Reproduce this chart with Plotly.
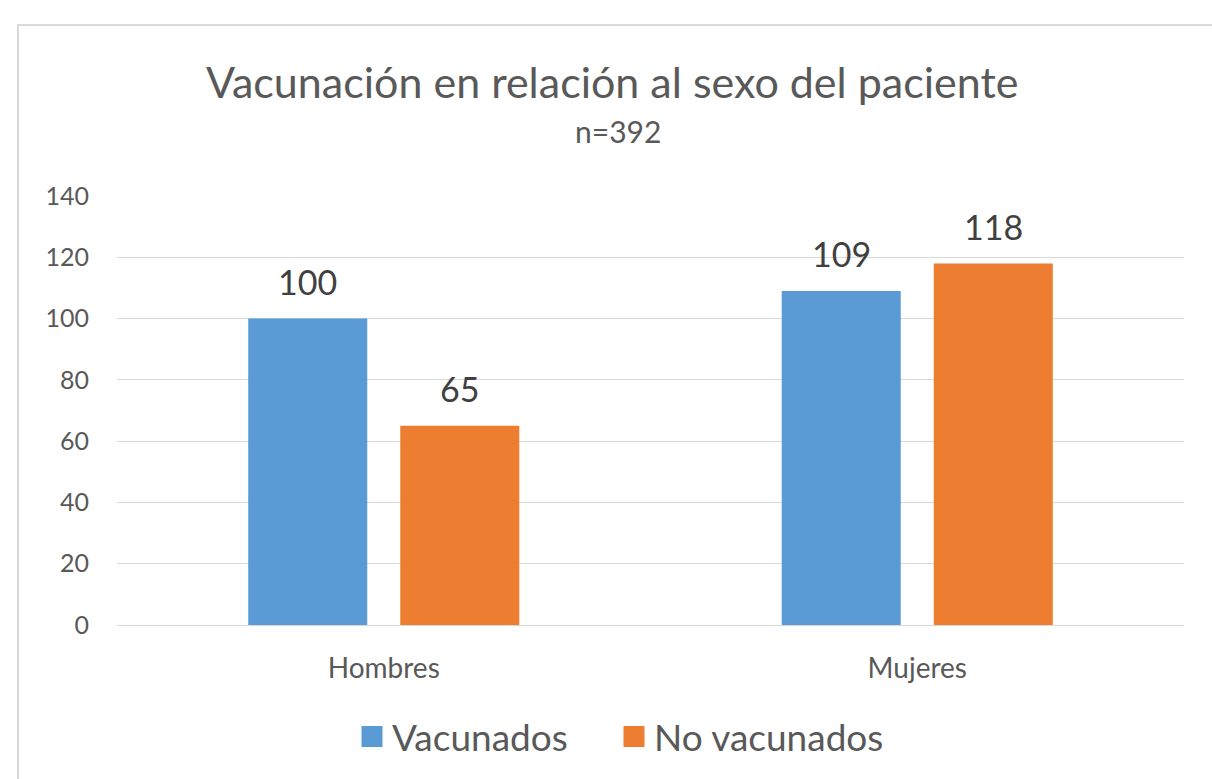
import plotly.graph_objects as go

categories = ["Hombres", "Mujeres"]
vacunados = [100, 109]
no_vacunados = [65, 118]
series_names = ["Vacunados", "No vacunados"]
title_text = "Vacunación en relación al sexo del paciente"
subtitle_text = "n=392"
y_ticks = [0, 20, 40, 60, 80, 100, 120, 140]

colors = ["#5B9BD5", "#ED7D31"]
FONT = "Lato, Carlito, 'Open Sans', sans-serif"

W, H = 1212, 779
L, R, T, B = 117, 28, 196, 154
bargap = 0.430
bargroupgap = 0.217

plot_w = W - L - R
plot_h = H - T - B
def py(pix):
    return (H - B - pix) / plot_h
def px(pix):
    return (pix - L) / plot_w

legend_names = ["legend", "legend2"]
legend_left = [352, 614]

fig = go.Figure()
for name, vals, col in zip(series_names, [vacunados, no_vacunados], colors):
    fig.add_trace(go.Bar(x=categories, y=vals, name=name, showlegend=False,
                         marker=dict(color=col, line=dict(width=0))))
# legend entries (larger square swatches), one legend per series
for name, col, lg in zip(series_names, colors, legend_names):
    fig.add_trace(go.Scatter(x=[None], y=[None], name=name, mode="markers", legend=lg,
                             marker=dict(symbol="square", size=16, color=col,
                                         line=dict(color=col, width=5))))

# data labels via annotations, shifted to each bar's centre
cat_w = plot_w / len(categories)
slot_w = cat_w * (1 - bargap) / 2
shifts = [-slot_w / 2, slot_w / 2]
annotations = []
for vals, sh in zip([vacunados, no_vacunados], shifts):
    for c, v in zip(categories, vals):
        annotations.append(dict(x=c, y=v, xref="x", yref="y", text=str(v), showarrow=False,
                                xshift=sh, yshift=37, yanchor="middle",
                                font=dict(family=FONT, size=34, color="#404040")))

annotations.append(dict(text=title_text, x=px(612), y=py(81), xref="paper", yref="paper",
                        showarrow=False, xanchor="center", yanchor="middle",
                        font=dict(family=FONT, size=43, color="#595959")))
annotations.append(dict(text=subtitle_text, x=px(618), y=py(131), xref="paper", yref="paper",
                        showarrow=False, xanchor="center", yanchor="middle",
                        font=dict(family=FONT, size=30, color="#595959")))

legend_style = dict(orientation="h", xanchor="left", y=py(737), yanchor="middle",
                    font=dict(family=FONT, size=37, color="#595959"), itemsizing="trace",
                    bgcolor="rgba(0,0,0,0)")

fig.update_layout(
    width=W, height=H,
    margin=dict(l=L, r=R, t=T, b=B, autoexpand=False),
    paper_bgcolor="white", plot_bgcolor="white",
    barmode="group", bargap=bargap, bargroupgap=bargroupgap,
    font=dict(family=FONT, color="#595959"),
    showlegend=True,
    legend=dict(x=px(legend_left[0]), **legend_style),
    legend2=dict(x=px(legend_left[1]), **legend_style),
    annotations=annotations,
    shapes=[dict(type="rect", xref="paper", yref="paper", x0=px(18), y0=-0.6, x1=1.3, y1=py(25),
                 line=dict(color="#D9D9D9", width=2), fillcolor="rgba(0,0,0,0)", layer="below")],
)
fig.update_xaxes(showgrid=False, showline=True, linecolor="#D9D9D9", linewidth=1, ticks="",
                 tickfont=dict(family=FONT, size=28, color="#595959"), ticklabelstandoff=18)
fig.update_yaxes(range=[0, 140], tickvals=y_ticks, showgrid=True, gridcolor="#D9D9D9", gridwidth=1,
                 zeroline=False, showline=False, ticks="",
                 tickfont=dict(family=FONT, size=25, color="#595959"), ticklabelstandoff=27)

fig.write_html("out.html", config={"displayModeBar": False},
               post_script="document.body.style.margin='0px';")
